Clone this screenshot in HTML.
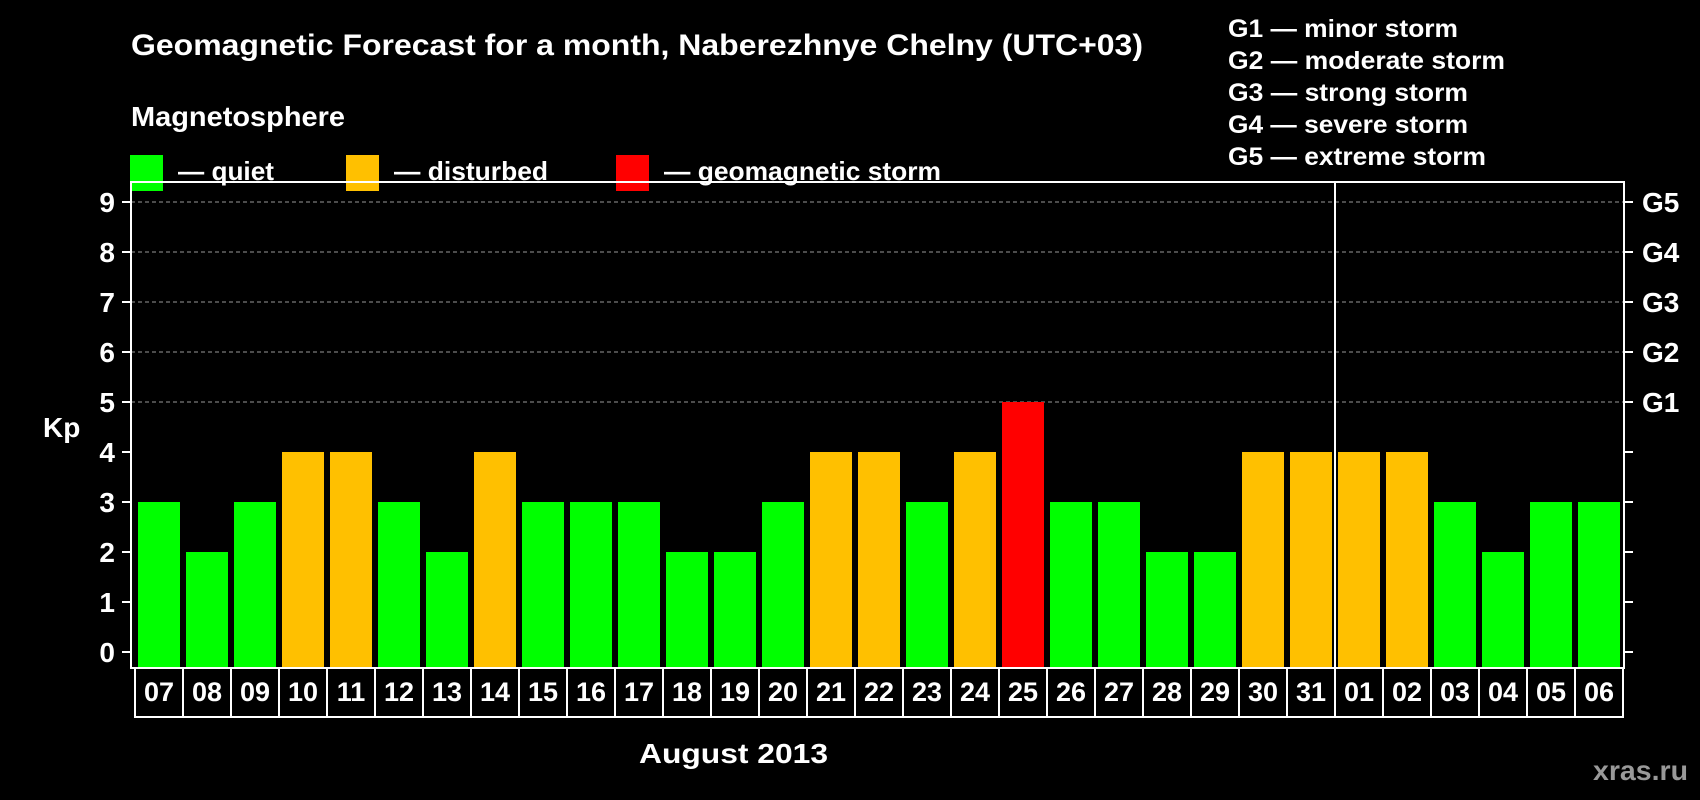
<!DOCTYPE html>
<html><head><meta charset="utf-8"><style>
html,body{margin:0;padding:0;background:#000;}
svg{display:block;font-family:"Liberation Sans",Arial,sans-serif;font-weight:bold;}
</style></head><body>
<svg id="chart" width="1700" height="800" viewBox="0 0 1700 800">
<rect width="1700" height="800" fill="#000"/>
<text x="131" y="55" font-size="30" fill="#fff" textLength="1012" lengthAdjust="spacingAndGlyphs">Geomagnetic Forecast for a month, Naberezhnye Chelny (UTC+03)</text>
<text x="131" y="126" font-size="28" fill="#fff" textLength="214" lengthAdjust="spacingAndGlyphs">Magnetosphere</text>
<g>
<rect x="130" y="155" width="33" height="36" fill="#00ff00"/>
<text x="178" y="180" font-size="26" fill="#fff" textLength="96" lengthAdjust="spacingAndGlyphs">— quiet</text></g>
<g>
<rect x="346" y="155" width="33" height="36" fill="#ffc000"/>
<text x="394" y="180" font-size="26" fill="#fff" textLength="154" lengthAdjust="spacingAndGlyphs">— disturbed</text></g>
<g>
<rect x="616" y="155" width="33" height="36" fill="#ff0000"/>
<text x="664" y="180" font-size="26" fill="#fff" textLength="277" lengthAdjust="spacingAndGlyphs">— geomagnetic storm</text></g>
<g font-size="25" fill="#fff">
<text x="1228" y="37" textLength="230" lengthAdjust="spacingAndGlyphs">G1 — minor storm</text>
<text x="1228" y="69" textLength="277" lengthAdjust="spacingAndGlyphs">G2 — moderate storm</text>
<text x="1228" y="101" textLength="240" lengthAdjust="spacingAndGlyphs">G3 — strong storm</text>
<text x="1228" y="133" textLength="240" lengthAdjust="spacingAndGlyphs">G4 — severe storm</text>
<text x="1228" y="165" textLength="258" lengthAdjust="spacingAndGlyphs">G5 — extreme storm</text>
</g>
<text x="43" y="437" font-size="28" fill="#fff">Kp</text>
<text x="639" y="763" font-size="28" fill="#fff" textLength="189" lengthAdjust="spacingAndGlyphs">August 2013</text>
<text x="1593" y="780" font-size="28" fill="#999" textLength="95" lengthAdjust="spacingAndGlyphs">xras.ru</text>
<g id="plot"></g>
</svg>
<script>
const days = ["07","08","09","10","11","12","13","14","15","16","17","18","19","20","21","22","23","24","25","26","27","28","29","30","31","01","02","03","04","05","06"];
const kpValues = [3,2,3,4,4,3,2,4,3,3,3,2,2,3,4,4,3,4,5,3,3,2,2,4,4,4,4,3,2,3,3];
const yTicks = [0,1,2,3,4,5,6,7,8,9];
const gridLevels = [5,6,7,8,9];
const gLabels = ["G1","G2","G3","G4","G5"];
const monthBreakIndex = 25;

const NS = "http://www.w3.org/2000/svg";
const plot = document.getElementById("plot");
const L = 131, R = 1624, T = 182, B = 668, Y0 = 652, UNIT = 50;
const X0 = 135, STEP = 48;
const y = v => Y0 - v * UNIT;
const x = i => X0 + i * STEP;
function mk(tag, attrs) { const e = document.createElementNS(NS, tag); for (const k in attrs) e.setAttribute(k, attrs[k]); plot.appendChild(e); return e; }
function color(v) { return v >= 5 ? "#ff0000" : (v >= 4 ? "#ffc000" : "#00ff00"); }

gridLevels.forEach(v => {
  const g = mk("line", {x1: L, x2: R, y1: y(v), y2: y(v), stroke: "#999", "stroke-width": 1, "stroke-dasharray": "4,3"});
  
  
});
kpValues.forEach((v, i) => {
  const b = mk("rect", {x: x(i) + 3, y: y(v), width: 42, height: B - y(v), fill: color(v)});
  
  
});
yTicks.forEach(v => {
  const t1 = mk("line", {x1: L - 9, x2: L, y1: y(v), y2: y(v), stroke: "#fff", "stroke-width": 2});
  
  
  const t2 = mk("line", {x1: R, x2: R + 9, y1: y(v), y2: y(v), stroke: "#fff", "stroke-width": 2});
  
  
  const lb = mk("text", {x: 115, y: y(v) + 10, "font-size": 28, fill: "#fff", "text-anchor": "end"});
  lb.textContent = v;
  
  
});
gLabels.forEach((g, k) => {
  const lb = mk("text", {x: 1642, y: y(k + 5) + 10, "font-size": 28, fill: "#fff"});
  lb.textContent = g;
  
  
});
const frame = mk("rect", {x: L, y: T, width: R - L, height: B - T, fill: "none", stroke: "#fff", "stroke-width": 2});


const div = mk("line", {x1: x(monthBreakIndex), x2: x(monthBreakIndex), y1: T, y2: B, stroke: "#fff", "stroke-width": 2});


days.forEach((d, i) => {
  const bx = mk("rect", {x: x(i), y: B, width: STEP, height: 49, fill: "#000", stroke: "#fff", "stroke-width": 2});
  
  
  const t = mk("text", {x: x(i) + STEP / 2, y: B + 33, "font-size": 27, fill: "#fff", "text-anchor": "middle"});
  t.textContent = d;
  
  
});
</script>
</body></html>
